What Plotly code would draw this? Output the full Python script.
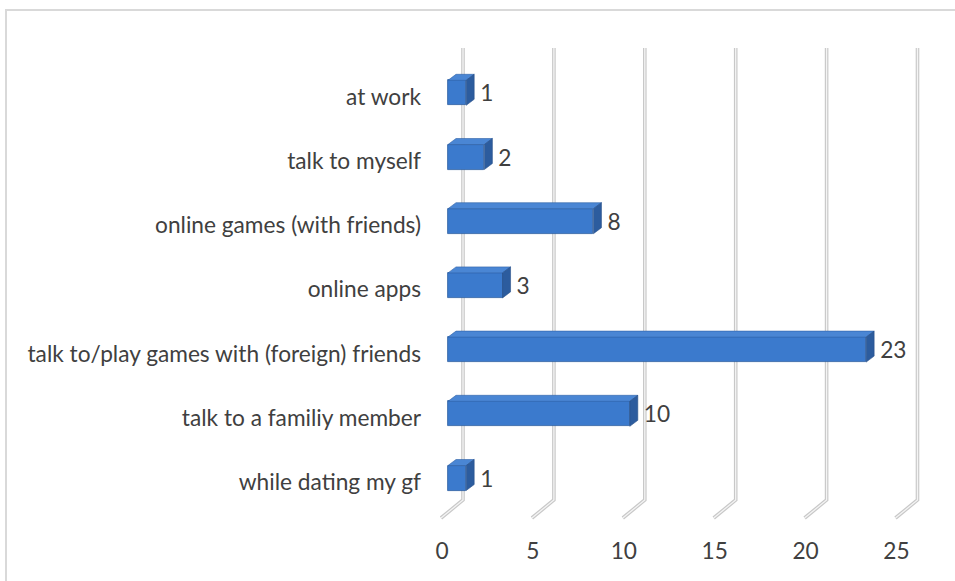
import plotly.graph_objects as go

# Survey answers: where the language is used, bottom-to-top order of the chart
categories = [
    "while dating my gf",
    "talk to a familiy member",
    "talk to/play games with (foreign) friends",
    "online apps",
    "online games (with friends)",
    "talk to myself",
    "at work",
]
counts = [1, 10, 23, 3, 8, 2, 1]
x_ticks = [0, 5, 10, 15, 20, 25]

W, H = 955, 581
ML, MB = 430, 46                    # plot area margins (px)
X0_PX, PX_PER_UNIT = 448.0, 18.18   # value 0 at the bar front face
Y0_PX, PX_PER_CAT = 482.0, 64.2     # first category centre, category spacing

FONT = "Lato"
FS = 22.7
TEXT = "#404040"

# axis ranges derived from the pixel layout
x_range = [(ML - X0_PX) / PX_PER_UNIT, (W - X0_PX) / PX_PER_UNIT]
x2_range = [(ML - (X0_PX - 6)) / PX_PER_UNIT, (W - (X0_PX - 6)) / PX_PER_UNIT]
y_range = [(Y0_PX - (H - MB)) / PX_PER_CAT, Y0_PX / PX_PER_CAT]


def ux(px):
    return px / PX_PER_UNIT


def uy(px):
    return px / PX_PER_CAT


def y_at(py):
    return (Y0_PX - py) / PX_PER_CAT


# 3-D depth of bars and wall
DX, DY = ux(8), uy(6)
BAR_H = uy(25)
BAR_SHIFT = uy(4)
WALL_DX = ux(15)
FLOOR_DX = ux(-7)
WALL_TOP, WALL_BOT, FLOOR_FRONT = y_at(48), y_at(500), y_at(518)

fig = go.Figure()

# back wall gridlines with their floor diagonals (double-line look), kept
# beneath the bars
grid_shapes = []
for t in x_ticks:
    path = (f"M {t + WALL_DX},{WALL_TOP} L {t + WALL_DX},{WALL_BOT} "
            f"L {t + FLOOR_DX},{FLOOR_FRONT}")
    for color, width in (("#c8c8c8", 3.6), ("#f4f4f4", 1.3)):
        grid_shapes.append(dict(type="path", path=path, xref="x", yref="y",
                                line=dict(color=color, width=width),
                                layer="below"))

ys = [i + BAR_SHIFT for i in range(len(categories))]

# front faces of the bars
fig.add_trace(go.Bar(
    x=counts, y=ys, orientation="h", width=BAR_H,
    marker=dict(color="#3b7acd", line=dict(color="#2d5f9f", width=0.8)),
    hoverinfo="skip", showlegend=False,
))

# top and side faces
for v, yc in zip(counts, ys):
    yt, yb = yc + BAR_H / 2, yc - BAR_H / 2
    fig.add_trace(go.Scatter(
        x=[0, v, v + DX, DX, 0], y=[yt, yt, yt + DY, yt + DY, yt],
        mode="lines", fill="toself", fillcolor="#4a86d4",
        line=dict(color="#2f62a6", width=0.6),
        hoverinfo="skip", showlegend=False))
    fig.add_trace(go.Scatter(
        x=[v, v + DX, v + DX, v, v], y=[yt, yt + DY, yb + DY, yb, yt],
        mode="lines", fill="toself", fillcolor="#2c5c9e",
        line=dict(color="#274f88", width=0.6),
        hoverinfo="skip", showlegend=False))

# value labels
fig.add_trace(go.Scatter(
    x=[v + DX + ux(6) for v in counts], y=[yc - uy(3) for yc in ys],
    mode="text",
    text=[str(v) for v in counts], textposition="middle right",
    textfont=dict(family=FONT, size=FS, color=TEXT),
    hoverinfo="skip", showlegend=False))

# carrier for the tick-label axis
fig.add_trace(go.Scatter(x=[x_ticks[0]], y=[0], xaxis="x2", mode="markers",
                         marker=dict(opacity=0), hoverinfo="skip",
                         showlegend=False))

border = dict(type="rect", xref="paper", yref="paper",
              x0=(6 - ML) / (W - ML), x1=1.05,
              y0=-0.2, y1=(H - MB - 10) / (H - MB),
              line=dict(color="#d9d9d9", width=2), layer="below")

fig.update_layout(
    width=W, height=H,
    margin=dict(l=ML, r=0, t=0, b=MB),
    paper_bgcolor="white", plot_bgcolor="white",
    font=dict(family=FONT, size=FS, color=TEXT),
    bargap=0,
    xaxis=dict(range=x_range, showgrid=False, zeroline=False,
               showline=False, showticklabels=False, fixedrange=True),
    xaxis2=dict(range=x2_range, overlaying="x", side="bottom", anchor="y",
                tickvals=x_ticks, ticktext=[str(t) for t in x_ticks],
                showgrid=False, zeroline=False, showline=False,
                ticks="", tickfont=dict(family=FONT, size=FS, color=TEXT)),
    yaxis=dict(range=y_range, tickvals=list(range(len(categories))),
               ticktext=categories, showgrid=False, zeroline=False,
               showline=False, ticks="", ticklabelstandoff=8,
               tickfont=dict(family=FONT, size=FS, color=TEXT)),
    shapes=[border] + grid_shapes,
)

fig.write_html("out.html")
